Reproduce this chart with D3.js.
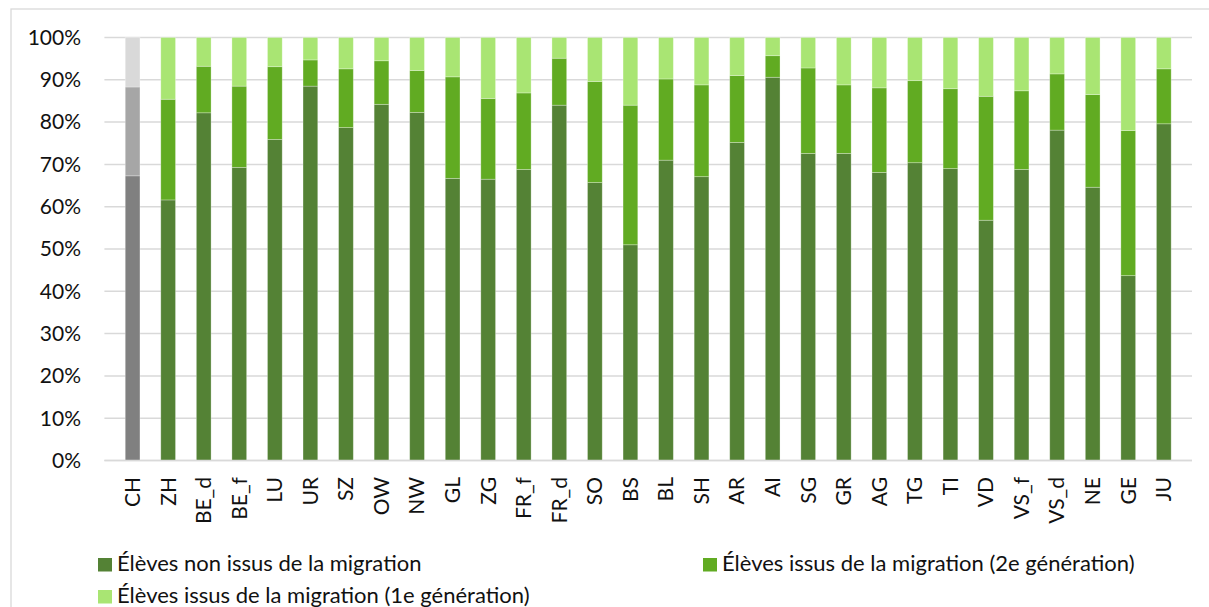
<!doctype html>
<html>
<head>
<meta charset="utf-8">
<script src="https://d3js.org/d3.v7.min.js"></script>
<style>
    html, body { margin: 0; padding: 0; background: #fff; }
    svg text { font-family: Lato, "Open Sans", sans-serif; fill: #111; }
</style>
</head>
<body>
<script>
    // cantons (CH = Swiss total, drawn in grey)
    let cantons = ["CH", "ZH", "BE_d", "BE_f", "LU", "UR", "SZ", "OW", "NW", "GL", "ZG", "FR_f", "FR_d", "SO", "BS",
                   "BL", "SH", "AR", "AI", "SG", "GR", "AG", "TG", "TI", "VD", "VS_f", "VS_d", "NE", "GE", "JU"];

    // shares in %
    let nonMigr = [67.3, 61.6, 82.2, 69.3, 75.9, 88.5, 78.7, 84.2, 82.3, 66.7, 66.5, 68.8, 84.0, 65.7, 51.0,
                   71.0, 67.1, 75.2, 90.6, 72.6, 72.6, 68.1, 70.4, 69.0, 56.8, 68.8, 78.1, 64.6, 43.7, 79.6];
    let gen2    = [21.0, 23.8, 11.0, 19.2, 17.2, 6.2, 13.9, 10.3, 9.9, 24.0, 19.1, 18.1, 11.1, 23.9, 33.0,
                   19.2, 21.7, 15.8, 5.1, 20.2, 16.2, 20.0, 19.4, 18.9, 29.3, 18.6, 13.3, 21.9, 34.3, 13.0];
    let gen1    = [11.7, 14.6, 6.8, 11.5, 6.9, 5.3, 7.4, 5.5, 7.8, 9.3, 14.4, 13.1, 4.9, 10.4, 16.0,
                   9.8, 11.2, 9.0, 4.3, 7.2, 11.2, 11.9, 10.2, 12.1, 13.9, 12.6, 8.6, 13.5, 22.0, 7.4];

    let seriesNames = ["Élèves non issus de la migration",
                       "Élèves issus de la migration (2e génération)",
                       "Élèves issus de la migration (1e génération)"];
    let greens = ["#548235", "#61ab22", "#a9e573"];
    let greys  = ["#808080", "#a6a6a6", "#d9d9d9"];
    let yTicks = [0, 10, 20, 30, 40, 50, 60, 70, 80, 90, 100];

    let width = 1209, height = 607;
    let plotLeft = 104.4, plotRight = 1192, plotTop = 37.5, plotBottom = 460.5;

    let svg = d3.select("body").append("svg")
                .attr("width", width)
                .attr("height", height);

    // chart frame (runs off the right and bottom edge, like in the source)
    svg.append("rect")
       .attr("x", 11).attr("y", 9)
       .attr("width", 1300).attr("height", 700)
       .attr("fill", "none")
       .attr("stroke", "#d9d9d9")
       .attr("stroke-width", 1.3);

    let x = d3.scaleBand().domain(cantons).range([plotLeft, plotRight]).padding(0.586);
    let y = d3.scaleLinear().domain([0, 100]).range([plotBottom, plotTop]);

    // gridlines
    svg.append("g").selectAll("line")
       .data(yTicks)
       .join("line")
       .attr("x1", plotLeft).attr("x2", plotRight)
       .attr("y1", d => y(d)).attr("y2", d => y(d))
       .attr("stroke", "#d9d9d9")
       .attr("stroke-width", 1.5);

    // y labels
    svg.append("g").selectAll("text")
       .data(yTicks)
       .join("text")
       .attr("x", 81)
       .attr("y", d => y(d))
       .attr("dy", "0.35em")
       .attr("text-anchor", "end")
       .style("font-size", "21px")
       .text(d => d + "%");

    // stacked bars
    let rows = cantons.map((c, i) => ({ canton: c, s0: nonMigr[i], s1: gen2[i], s2: gen1[i] }));
    let stack = d3.stack().keys(["s0", "s1", "s2"])(rows);

    svg.append("g").selectAll("g")
       .data(stack)
       .join("g")
       .selectAll("rect")
       .data((layer, k) => layer.map(d => ({ d, k })))
       .join("rect")
       .attr("x", e => x(e.d.data.canton))
       .attr("width", x.bandwidth())
       .attr("y", e => y(e.d[1]))
       .attr("height", e => y(e.d[0]) - y(e.d[1]))
       .attr("fill", e => e.d.data.canton === "CH" ? greys[e.k] : greens[e.k])
       .attr("stroke", "#ffffff")
       .attr("stroke-opacity", 0.35)
       .attr("stroke-width", 0.8);

    // x axis line
    svg.append("line")
       .attr("x1", plotLeft).attr("x2", plotRight)
       .attr("y1", plotBottom).attr("y2", plotBottom)
       .attr("stroke", "#d9d9d9")
       .attr("stroke-width", 1.5);

    // x labels, rotated
    svg.append("g").selectAll("text")
       .data(cantons)
       .join("text")
       .attr("transform", d => "translate(" + (x(d) + x.bandwidth() / 2) + "," + 477 + ") rotate(-90)")
       .attr("dy", "0.35em")
       .attr("text-anchor", "end")
       .style("font-size", "21px")
       .text(d => d);

    // legend
    let legendPos = [{ x: 98, y: 571 }, { x: 703, y: 571 }, { x: 98, y: 603 }];
    let lg = svg.append("g").selectAll("g")
                .data(seriesNames)
                .join("g")
                .attr("transform", (d, i) => "translate(" + legendPos[i].x + "," + legendPos[i].y + ")");
    lg.append("rect")
      .attr("x", 0).attr("y", -13)
      .attr("width", 14).attr("height", 13.5)
      .attr("fill", (d, i) => greens[i]);
    lg.append("text")
      .attr("x", 19)
      .style("font-size", "22px")
      .text(d => d);
</script>
</body>
</html>
